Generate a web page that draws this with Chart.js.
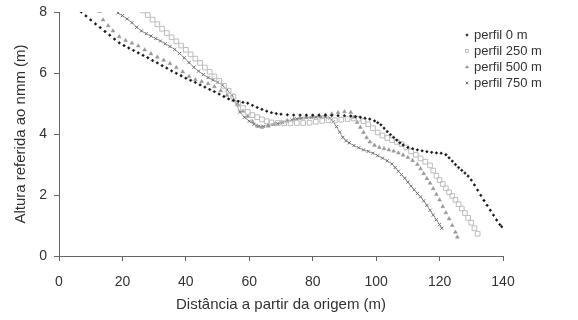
<!DOCTYPE html>
<html>
<head>
<meta charset="utf-8">
<script src="https://cdn.jsdelivr.net/npm/chart.js@4.4.1/dist/chart.umd.min.js"></script>
<style>
  body { margin: 0; background: #fff; }
  #wrap { width: 578px; height: 320px; }
</style>
</head>
<body>
<div id="wrap"><canvas id="profileChart" width="578" height="320"></canvas></div>
<script>
const seriesLabels = ["perfil 0 m", "perfil 250 m", "perfil 500 m", "perfil 750 m"];

const perfil0X = [7.0, 8.5, 10.0, 11.5, 13.0, 14.5, 16.0, 17.5, 19.0, 20.5, 22.0, 23.5, 25.0, 26.5, 28.0, 29.5, 31.0, 32.5, 34.0, 35.5, 37.0, 38.5, 40.0, 41.5, 43.0, 44.5, 46.0, 47.5, 49.0, 50.5, 52.0, 53.5, 55.0, 56.5, 58.0, 59.5, 61.0, 62.5, 64.0, 65.5, 67.0, 68.5, 70.0, 72.0, 74.0, 76.0, 78.0, 80.0, 82.0, 84.0, 86.0, 88.0, 90.0, 92.0, 93.5, 95.0, 96.5, 98.0, 99.5, 100.5, 101.5, 102.5, 103.5, 104.5, 105.5, 106.5, 107.5, 108.5, 110.0, 111.5, 113.0, 114.5, 116.0, 117.5, 119.0, 120.5, 122.0, 123.0, 124.0, 125.0, 126.0, 127.0, 128.0, 129.0, 130.0, 131.0, 132.0, 133.0, 134.0, 135.0, 136.0, 137.0, 138.0, 139.0, 139.6];
const perfil0Y = [8.00, 7.87, 7.74, 7.61, 7.49, 7.36, 7.24, 7.11, 6.99, 6.90, 6.82, 6.74, 6.66, 6.58, 6.50, 6.41, 6.33, 6.24, 6.16, 6.07, 5.99, 5.91, 5.83, 5.76, 5.69, 5.61, 5.54, 5.46, 5.39, 5.31, 5.23, 5.15, 5.10, 5.07, 5.04, 5.01, 4.94, 4.87, 4.81, 4.75, 4.70, 4.67, 4.65, 4.63, 4.62, 4.62, 4.62, 4.62, 4.62, 4.62, 4.61, 4.60, 4.60, 4.59, 4.57, 4.55, 4.52, 4.49, 4.43, 4.37, 4.30, 4.19, 4.08, 3.98, 3.89, 3.80, 3.71, 3.64, 3.56, 3.52, 3.48, 3.45, 3.42, 3.40, 3.38, 3.37, 3.32, 3.22, 3.11, 3.00, 2.90, 2.81, 2.72, 2.62, 2.49, 2.33, 2.16, 1.99, 1.82, 1.66, 1.50, 1.34, 1.18, 1.03, 0.96];

const perfil250X = [26.5, 28.0, 29.5, 31.0, 32.5, 34.0, 35.5, 37.0, 38.5, 40.0, 41.5, 43.0, 44.5, 46.0, 47.5, 49.0, 50.5, 52.0, 53.5, 55.0, 56.5, 58.0, 59.5, 61.0, 62.5, 64.0, 65.5, 67.0, 69.0, 71.0, 73.0, 75.0, 77.0, 79.0, 81.0, 83.0, 85.0, 87.0, 89.0, 91.0, 93.0, 94.5, 96.0, 97.5, 99.0, 100.5, 102.0, 103.5, 105.0, 106.5, 108.0, 109.5, 111.0, 112.5, 114.0, 115.5, 117.0, 118.0, 119.0, 120.0, 121.0, 122.0, 123.0, 124.0, 125.0, 126.0, 127.0, 128.0, 129.0, 130.0, 131.0, 132.0];
const perfil250Y = [8.05, 7.90, 7.75, 7.60, 7.45, 7.31, 7.17, 7.04, 6.90, 6.76, 6.61, 6.47, 6.33, 6.18, 6.04, 5.89, 5.74, 5.58, 5.42, 5.22, 5.02, 4.85, 4.72, 4.62, 4.55, 4.48, 4.42, 4.38, 4.36, 4.35, 4.35, 4.36, 4.36, 4.37, 4.40, 4.43, 4.45, 4.45, 4.47, 4.49, 4.51, 4.50, 4.42, 4.32, 4.19, 4.05, 3.95, 3.87, 3.80, 3.74, 3.67, 3.56, 3.43, 3.32, 3.20, 3.09, 2.97, 2.80, 2.63, 2.49, 2.36, 2.22, 2.09, 1.97, 1.84, 1.70, 1.56, 1.41, 1.25, 1.09, 0.91, 0.73];

const perfil500X = [12.8, 13.9, 15.5, 17.0, 19.0, 21.0, 23.0, 25.0, 27.0, 29.0, 31.0, 33.0, 35.0, 37.0, 39.0, 41.0, 43.0, 45.0, 47.0, 49.0, 51.0, 53.0, 55.0, 56.5, 58.0, 59.5, 61.0, 62.5, 64.0, 66.0, 68.0, 70.0, 72.0, 74.0, 76.0, 78.0, 80.0, 82.0, 84.0, 86.0, 88.0, 90.0, 92.0, 93.0, 94.0, 95.0, 96.0, 97.0, 98.0, 99.5, 101.0, 102.5, 104.0, 105.5, 107.0, 108.5, 110.0, 111.5, 113.0, 114.0, 115.0, 116.0, 117.0, 118.0, 119.0, 120.0, 121.0, 122.0, 123.0, 124.0, 125.0, 125.6];
const perfil500Y = [8.02, 7.74, 7.55, 7.38, 7.19, 7.07, 6.98, 6.89, 6.76, 6.63, 6.52, 6.42, 6.31, 6.18, 6.04, 5.89, 5.78, 5.72, 5.65, 5.55, 5.42, 5.27, 5.10, 4.95, 4.75, 4.58, 4.40, 4.26, 4.22, 4.26, 4.32, 4.38, 4.44, 4.49, 4.52, 4.55, 4.57, 4.60, 4.62, 4.66, 4.70, 4.73, 4.71, 4.55, 4.38, 4.22, 4.05, 3.88, 3.74, 3.63, 3.56, 3.52, 3.48, 3.44, 3.38, 3.31, 3.23, 3.13, 3.00, 2.86, 2.70, 2.54, 2.39, 2.21, 2.02, 1.84, 1.62, 1.42, 1.22, 1.00, 0.78, 0.62];

const perfil750X = [18.6, 20.0, 21.5, 23.0, 24.5, 26.0, 27.5, 29.0, 30.5, 32.0, 33.5, 35.0, 36.5, 38.0, 39.5, 41.0, 42.5, 44.0, 45.5, 47.0, 48.5, 50.0, 51.5, 53.0, 54.5, 56.0, 57.0, 58.5, 60.0, 61.5, 63.0, 64.5, 66.0, 67.5, 69.0, 70.5, 72.0, 73.5, 75.0, 76.5, 78.0, 79.5, 81.0, 82.5, 84.0, 85.5, 86.5, 87.5, 88.5, 89.5, 90.5, 91.5, 93.0, 94.5, 96.0, 97.5, 99.0, 100.5, 102.0, 103.5, 105.0, 106.0, 107.0, 108.0, 109.0, 110.0, 111.0, 112.0, 113.0, 114.0, 115.0, 116.0, 117.0, 118.0, 119.0, 120.0, 120.7];
const perfil750Y = [7.97, 7.88, 7.77, 7.65, 7.50, 7.38, 7.29, 7.21, 7.13, 7.05, 6.96, 6.87, 6.77, 6.64, 6.50, 6.34, 6.19, 6.06, 5.95, 5.85, 5.77, 5.70, 5.60, 5.45, 5.28, 4.98, 4.72, 4.55, 4.42, 4.32, 4.25, 4.25, 4.28, 4.31, 4.34, 4.38, 4.42, 4.46, 4.50, 4.52, 4.53, 4.54, 4.55, 4.56, 4.55, 4.52, 4.40, 4.24, 4.06, 3.89, 3.78, 3.71, 3.62, 3.55, 3.48, 3.43, 3.37, 3.29, 3.21, 3.12, 3.02, 2.90, 2.78, 2.67, 2.55, 2.42, 2.29, 2.17, 2.05, 1.94, 1.81, 1.66, 1.50, 1.34, 1.19, 1.03, 0.91];

const xTicks = [0, 20, 40, 60, 80, 100, 120, 140];
const yTicks = [0, 2, 4, 6, 8];

const fontFamily = '"Liberation Sans", Arial, sans-serif';
const textColor = '#333';
const axisColor = '#666';

function pairs(xs, ys) {
    return xs.map((x, i) => ({ x: x, y: ys[i] }));
}

function drawMark(ctx, ds, x, y) {
    ctx.save();
    ctx.fillStyle = ds.pointBackgroundColor;
    ctx.strokeStyle = ds.pointBorderColor;
    ctx.lineWidth = ds.pointBorderWidth;
    Chart.helpers.drawPoint(ctx, {
        pointStyle: ds.pointStyle,
        radius: ds.legendRadius,
        borderWidth: ds.pointBorderWidth,
        rotation: 0
    }, x, y);
    ctx.restore();
}

// legend drawn by hand in the upper right corner
const cornerLegend = {
    id: 'cornerLegend',
    afterDraw(chart) {
        const ctx = chart.ctx;
        ctx.save();
        ctx.font = '13px ' + fontFamily;
        ctx.textBaseline = 'middle';
        chart.data.datasets.forEach((ds, i) => {
            const y = 35 + i * 16;
            drawMark(ctx, ds, 467, y);
            ctx.fillStyle = textColor;
            ctx.fillText(ds.label, 474, y);
        });
        ctx.restore();
    }
};

const ctx = document.getElementById('profileChart').getContext('2d');
const chart = new Chart(ctx, {
    type: 'scatter',
    data: {
        datasets: [
            {
                label: seriesLabels[0],
                data: pairs(perfil0X, perfil0Y),
                pointStyle: 'rectRot',
                pointRadius: 1.4,
                legendRadius: 1.3,
                pointBackgroundColor: '#151515',
                pointBorderColor: '#151515',
                pointBorderWidth: 0.5,
                showLine: false
            },
            {
                label: seriesLabels[1],
                data: pairs(perfil250X, perfil250Y),
                pointStyle: 'rect',
                pointRadius: 3.3,
                legendRadius: 2.2,
                pointBackgroundColor: 'rgba(255,255,255,0)',
                pointBorderColor: '#bdbdbd',
                pointBorderWidth: 1,
                showLine: false
            },
            {
                label: seriesLabels[2],
                data: pairs(perfil500X, perfil500Y),
                pointStyle: 'triangle',
                pointRadius: 2.2,
                legendRadius: 1.8,
                pointBackgroundColor: '#969696',
                pointBorderColor: '#969696',
                pointBorderWidth: 0.5,
                showLine: false
            },
            {
                label: seriesLabels[3],
                data: pairs(perfil750X, perfil750Y),
                pointStyle: 'crossRot',
                pointRadius: 2.2,
                legendRadius: 1.8,
                pointBackgroundColor: '#707070',
                pointBorderColor: '#707070',
                pointBorderWidth: 1,
                borderColor: '#8a8a8a',
                borderWidth: 0.8,
                showLine: true
            }
        ]
    },
    options: {
        responsive: false,
        animation: false,
        layout: { padding: { left: 0, right: 75, top: 12, bottom: 6 } },
        plugins: {
            legend: { display: false },
            tooltip: { enabled: false }
        },
        scales: {
            x: {
                type: 'linear',
                min: 0,
                max: 140,
                afterBuildTicks: (scale) => { scale.ticks = xTicks.map(v => ({ value: v })); },
                afterFit: (scale) => { scale.height = 58; scale.paddingLeft = 0; scale.paddingRight = 0; },
                grid: { drawOnChartArea: false, drawTicks: true, tickLength: 5, color: axisColor },
                border: { display: true, color: axisColor, width: 1 },
                ticks: {
                    color: textColor,
                    padding: 13,
                    maxRotation: 0,
                    font: { family: fontFamily, size: 14 }
                },
                title: {
                    display: true,
                    text: 'Distância a partir da origem (m)',
                    color: textColor,
                    padding: { top: 0, bottom: 0 },
                    font: { family: fontFamily, size: 15 }
                }
            },
            y: {
                type: 'linear',
                min: 0,
                max: 8,
                afterBuildTicks: (scale) => { scale.ticks = yTicks.map(v => ({ value: v })); },
                afterFit: (scale) => { scale.width = 59; scale.paddingTop = 0; scale.paddingBottom = 0; },
                grid: { drawOnChartArea: false, drawTicks: true, tickLength: 5, color: axisColor },
                border: { display: true, color: axisColor, width: 1 },
                ticks: {
                    color: textColor,
                    padding: 7,
                    font: { family: fontFamily, size: 14 }
                },
                title: {
                    display: true,
                    text: 'Altura referida ao nmm (m)',
                    color: textColor,
                    padding: { top: 12, bottom: 0 },
                    font: { family: fontFamily, size: 15 }
                }
            }
        }
    },
    plugins: [cornerLegend]
});
</script>
</body>
</html>
